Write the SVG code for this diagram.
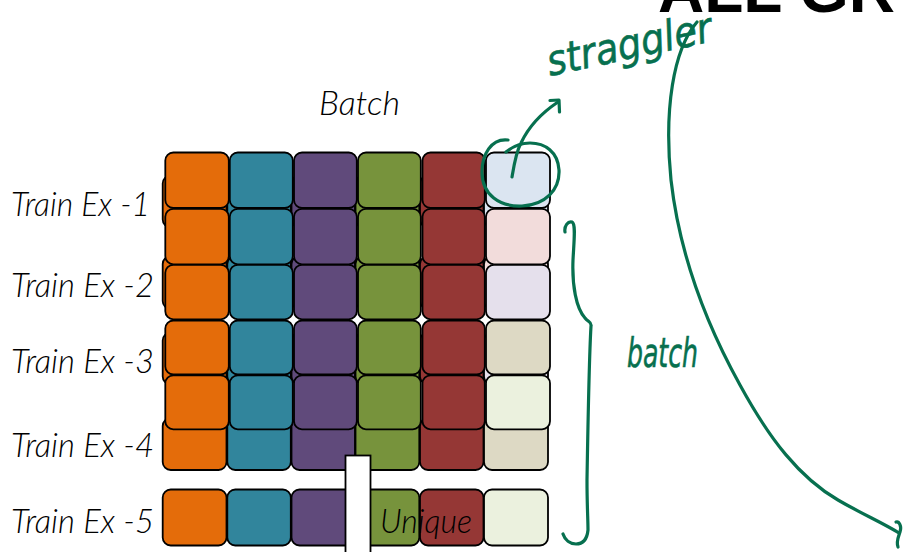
<svg xmlns="http://www.w3.org/2000/svg" width="910" height="552" viewBox="0 0 910 552">
  <style>
    .tile { stroke: #000; stroke-width: 1.8; }
    .o { fill: #e46c0a; }
    .t { fill: #31859c; }
    .p { fill: #604a7b; }
    .g { fill: #77933c; }
    .r { fill: #953735; }
    .l1 { fill: #dbe5f1; }
    .l2 { fill: #f2dcdb; }
    .l3 { fill: #e5e0ec; }
    .l4 { fill: #ddd9c4; }
    .l5 { fill: #ebf1de; }
    .label { font-family: Lato, "Open Sans", "Liberation Sans", sans-serif; font-style: italic; font-weight: 300; font-size: 34px; fill: #000; }
    .ink { fill: none; stroke: #07704f; stroke-width: 3.2; stroke-linecap: round; stroke-linejoin: round; }
    .inktext { font-family: "DejaVu Sans", sans-serif; font-style: oblique; fill: #07704f; stroke: #07704f; stroke-width: 0.6; }
  </style>

  <rect width="910" height="552" fill="#fff"/>

  <!-- heading, cut off by the top edge -->
  <text x="658" y="12" font-family="Liberation Sans, Arial, sans-serif" font-weight="bold" font-size="64" fill="#000">ALL GR</text>

  <!-- back layer of training rows -->
  <g id="row-back-1">
    <rect class="tile o" x="162.7" y="175.5" width="63.8" height="52" rx="8"/>
    <rect class="tile t" x="227.3" y="175.5" width="63.5" height="52" rx="8"/>
    <rect class="tile p" x="291.5" y="175.5" width="63.5" height="52" rx="8"/>
    <rect class="tile g" x="355.5" y="175.5" width="63.8" height="52" rx="8"/>
    <rect class="tile r" x="420" y="175.5" width="63.5" height="52" rx="8"/>
    <rect class="tile l1" x="484" y="175.5" width="64" height="52" rx="8"/>
  </g>
  <g id="row-back-2">
    <rect class="tile o" x="162.7" y="256" width="63.8" height="53" rx="8"/>
    <rect class="tile t" x="227.3" y="256" width="63.5" height="53" rx="8"/>
    <rect class="tile p" x="291.5" y="256" width="63.5" height="53" rx="8"/>
    <rect class="tile g" x="355.5" y="256" width="63.8" height="53" rx="8"/>
    <rect class="tile r" x="420" y="256" width="63.5" height="53" rx="8"/>
    <rect class="tile l2" x="484" y="256" width="64" height="53" rx="8"/>
  </g>
  <g id="row-back-3">
    <rect class="tile o" x="162.7" y="332.5" width="63.8" height="52" rx="8"/>
    <rect class="tile t" x="227.3" y="332.5" width="63.5" height="52" rx="8"/>
    <rect class="tile p" x="291.5" y="332.5" width="63.5" height="52" rx="8"/>
    <rect class="tile g" x="355.5" y="332.5" width="63.8" height="52" rx="8"/>
    <rect class="tile r" x="420" y="332.5" width="63.5" height="52" rx="8"/>
    <rect class="tile l3" x="484" y="332.5" width="64" height="52" rx="8"/>
  </g>
  <g id="row-back-4">
    <rect class="tile o" x="162.7" y="418" width="63.8" height="52" rx="8"/>
    <rect class="tile t" x="227.3" y="418" width="63.5" height="52" rx="8"/>
    <rect class="tile p" x="291.5" y="418" width="63.5" height="52" rx="8"/>
    <rect class="tile g" x="355.5" y="418" width="63.8" height="52" rx="8"/>
    <rect class="tile r" x="420" y="418" width="63.5" height="52" rx="8"/>
    <rect class="tile l4" x="484" y="418" width="64" height="52" rx="8"/>
  </g>
  <g id="row-back-5">
    <rect class="tile o" x="162.7" y="489.5" width="63.8" height="56" rx="8"/>
    <rect class="tile t" x="227.3" y="489.5" width="63.5" height="56" rx="8"/>
    <rect class="tile p" x="291.5" y="489.5" width="63.5" height="56" rx="8"/>
    <rect class="tile g" x="355.5" y="489.5" width="63.8" height="56" rx="8"/>
    <rect class="tile r" x="420" y="489.5" width="63.5" height="56" rx="8"/>
    <rect class="tile l5" x="484" y="489.5" width="64" height="56" rx="8"/>
  </g>

  <!-- front layer: the rows stacked into one batch -->
  <g id="row-front-1">
    <rect class="tile o" x="165.3" y="152.5" width="63.5" height="55.5" rx="8"/>
    <rect class="tile t" x="229.8" y="152.5" width="63" height="55.5" rx="8"/>
    <rect class="tile p" x="294" y="152.5" width="62.8" height="55.5" rx="8"/>
    <rect class="tile g" x="358" y="152.5" width="62.8" height="55.5" rx="8"/>
    <rect class="tile r" x="422.5" y="152.5" width="62.3" height="55.5" rx="8"/>
    <rect class="tile l1" x="486" y="152.5" width="64" height="55.5" rx="8"/>
  </g>
  <g id="row-front-2">
    <rect class="tile o" x="165.3" y="208.8" width="63.5" height="55.5" rx="8"/>
    <rect class="tile t" x="229.8" y="208.8" width="63" height="55.5" rx="8"/>
    <rect class="tile p" x="294" y="208.8" width="62.8" height="55.5" rx="8"/>
    <rect class="tile g" x="358" y="208.8" width="62.8" height="55.5" rx="8"/>
    <rect class="tile r" x="422.5" y="208.8" width="62.3" height="55.5" rx="8"/>
    <rect class="tile l2" x="486" y="208.8" width="64" height="55.5" rx="8"/>
  </g>
  <g id="row-front-3">
    <rect class="tile o" x="165.3" y="264.8" width="63.5" height="54.5" rx="8"/>
    <rect class="tile t" x="229.8" y="264.8" width="63" height="54.5" rx="8"/>
    <rect class="tile p" x="294" y="264.8" width="62.8" height="54.5" rx="8"/>
    <rect class="tile g" x="358" y="264.8" width="62.8" height="54.5" rx="8"/>
    <rect class="tile r" x="422.5" y="264.8" width="62.3" height="54.5" rx="8"/>
    <rect class="tile l3" x="486" y="264.8" width="64" height="54.5" rx="8"/>
  </g>
  <g id="row-front-4">
    <rect class="tile o" x="165.3" y="320.5" width="63.5" height="54" rx="8"/>
    <rect class="tile t" x="229.8" y="320.5" width="63" height="54" rx="8"/>
    <rect class="tile p" x="294" y="320.5" width="62.8" height="54" rx="8"/>
    <rect class="tile g" x="358" y="320.5" width="62.8" height="54" rx="8"/>
    <rect class="tile r" x="422.5" y="320.5" width="62.3" height="54" rx="8"/>
    <rect class="tile l4" x="486" y="320.5" width="64" height="54" rx="8"/>
  </g>
  <g id="row-front-5">
    <rect class="tile o" x="165.3" y="375.3" width="63.5" height="54" rx="8"/>
    <rect class="tile t" x="229.8" y="375.3" width="63" height="54" rx="8"/>
    <rect class="tile p" x="294" y="375.3" width="62.8" height="54" rx="8"/>
    <rect class="tile g" x="358" y="375.3" width="62.8" height="54" rx="8"/>
    <rect class="tile r" x="422.5" y="375.3" width="62.3" height="54" rx="8"/>
    <rect class="tile l5" x="486" y="375.3" width="64" height="54" rx="8"/>
  </g>

  <!-- white divider bar over the last rows -->
  <g id="divider">
    <rect x="345.5" y="455.5" width="25" height="110" fill="#fff" stroke="#000" stroke-width="1.8"/>
  </g>

  <!-- labels -->
  <g id="labels">
    <text class="label" x="319" y="115">Batch</text>
    <text class="label" x="11" y="216" textLength="139" lengthAdjust="spacingAndGlyphs">Train Ex -1</text>
    <text class="label" x="11" y="296.5" textLength="143" lengthAdjust="spacingAndGlyphs">Train Ex -2</text>
    <text class="label" x="11" y="373.3" textLength="143" lengthAdjust="spacingAndGlyphs">Train Ex -3</text>
    <text class="label" x="11" y="456.7" textLength="143" lengthAdjust="spacingAndGlyphs">Train Ex -4</text>
    <text class="label" x="11" y="532.7" textLength="143" lengthAdjust="spacingAndGlyphs">Train Ex -5</text>
    <text class="label" x="380" y="532.7" textLength="92" lengthAdjust="spacingAndGlyphs">Unique</text>
  </g>

  <!-- handwritten annotations -->
  <g id="notes">
    <text class="inktext" font-size="42" transform="translate(550,76) rotate(-12)" textLength="168" lengthAdjust="spacingAndGlyphs">straggler</text>
    <text class="inktext" font-size="40" x="627" y="367" textLength="71" lengthAdjust="spacingAndGlyphs">batch</text>
  </g>

  <g id="connectors">
    <!-- loop round the straggler tile -->
    <path class="ink" d="M508,140 C491,138 482,155 482,172 C482,195 500,207 522,206 C545,205 560,190 559,170 C558,152 545,143 530,143 C520,143 512,147 506,152"/>
    <!-- arrow out of the loop -->
    <path class="ink" d="M512,177 C514,165 516,152 521,143 C528,128 540,114 558,102"/>
    <path class="ink" d="M550,100.5 L559,100 L559.5,112"/>
    <!-- brace over the batch rows -->
    <path class="ink" d="M565,232 C564,226 568,221 572,222 C576,224 574,240 573,260 C572,285 576,308 585,318 C588,322 592,322 591,326 C589,360 588,420 587,480 C587,505 588,520 588,530 C587,540 582,544 576,544 C570,544 565,540 563,534"/>
    <!-- long arrow down the right side -->
    <path class="ink" d="M697,22 C673,50 664,110 671,180 C679,250 704,320 740,385 C770,440 800,478 838,500 C862,514 883,523 899,533"/>
    <path class="ink" d="M896,522 C899,521 902,526 900,532 C898,538 896,542 898,547"/>
  </g>
</svg>
